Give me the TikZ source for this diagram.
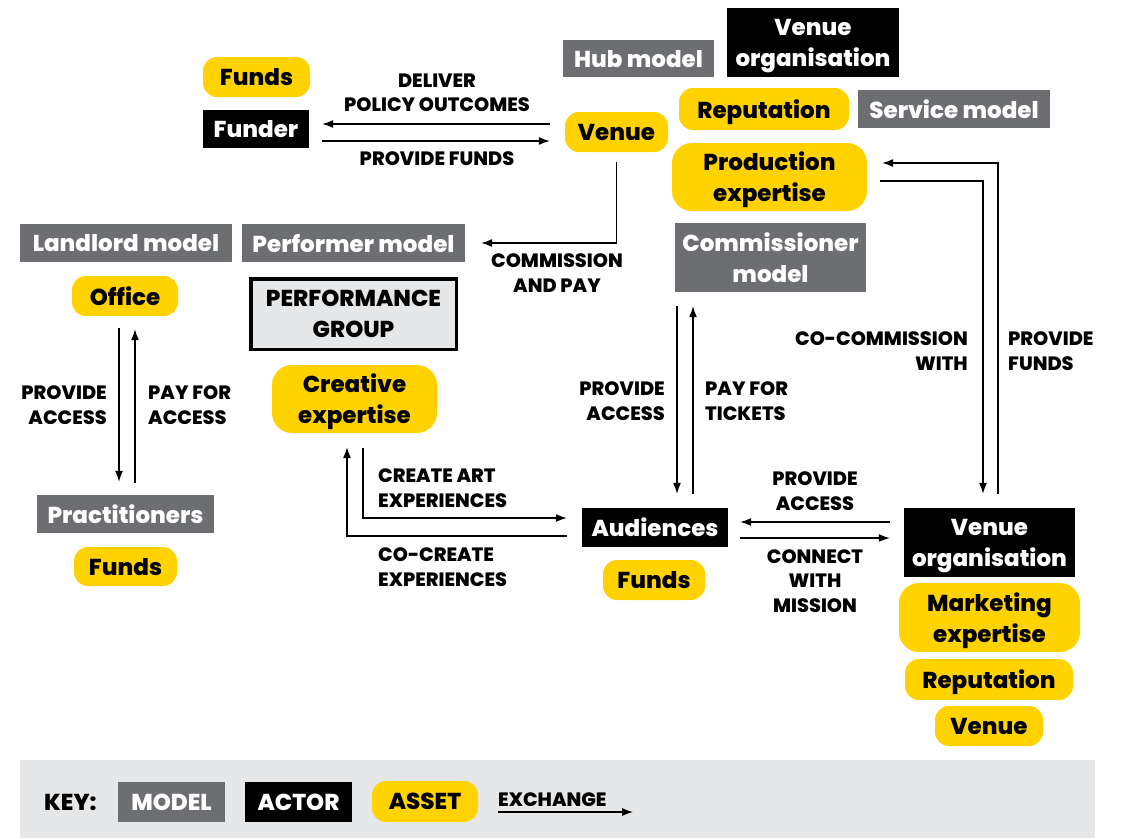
\documentclass[tikz,border=0pt]{standalone}
\usepackage{fontspec}
\setmainfont{Poppins}[BoldFont={Poppins ExtraBold}]
\usetikzlibrary{arrows.meta}
\definecolor{assetyellow}{HTML}{FFD200}
\definecolor{modelgray}{HTML}{6D6E72}
\definecolor{keygray}{HTML}{E6E7E9}

\begin{document}
\begin{tikzpicture}[x=1pt,y=-1pt,
    box/.style={inner sep=0pt, align=center, text depth=0pt, font=\fontsize{23}{31}\selectfont\bfseries},
    model/.style={box, fill=modelgray, text=white},
    actor/.style={box, fill=black, text=white},
    asset/.style={box, fill=assetyellow, text=black, rounded corners=14pt},
    flowtxt/.style={inner sep=0pt, font=\fontsize{19.3}{24.5}\selectfont\bfseries},
    keytxt/.style={inner sep=0pt, font=\fontsize{23}{24}\selectfont\bfseries},
    exch/.style={-{Latex[length=11pt,width=8pt]}, line width=1.2pt}]
  \useasboundingbox (0,0) rectangle (1121,838);

  % Funder and hub
  \node[asset, minimum width=107, minimum height=40] (funds1) at (256.5,77) {Funds};
  \node[actor, minimum width=106, minimum height=38] (funder) at (256,129) {Funder};
  \node[asset, minimum width=103, minimum height=40] (venue1) at (616.5,132) {Venue};
  \node[model, minimum width=151, minimum height=37] (hub) at (638.5,58.5) {Hub model};
  \node[actor, minimum width=172, minimum height=69] (venueorg1) at (813,42.5) {Venue\\organisation};
  \node[asset, minimum width=170, minimum height=42] (reputation1) at (764,109) {Reputation};
  \node[model, minimum width=192, minimum height=38] (service) at (954,109) {Service model};
  \node[asset, minimum width=195, minimum height=68, rounded corners=20pt] (production) at (769.5,177) {Production\\expertise};

  % Landlord and performer
  \node[model, minimum width=212, minimum height=38] (landlord) at (126,243) {Landlord model};
  \node[model, minimum width=223, minimum height=38] (performer) at (353.5,243) {Performer model};
  \node[asset, minimum width=106, minimum height=40] (office) at (125,296) {Office};
  \node[box, fill=keygray, draw=black, line width=3.5pt, minimum width=205.5, minimum height=70.5] (group) at (353.5,314) {PERFORMANCE\\GROUP};
  \node[asset, minimum width=165, minimum height=68, rounded corners=20pt] (creative) at (354.5,399) {Creative\\expertise};
  \node[model, minimum width=177, minimum height=38] (practitioners) at (125.5,514) {Practitioners};
  \node[asset, minimum width=103, minimum height=39] (funds2) at (125.5,566.5) {Funds};

  % Commissioner, audiences and venue
  \node[model, minimum width=191, minimum height=69] (commissioner) at (770.5,257.5) {Commissioner\\model};
  \node[actor, minimum width=146, minimum height=39] (audiences) at (655,527.5) {Audiences};
  \node[asset, minimum width=102, minimum height=40] (funds3) at (654,580) {Funds};
  \node[actor, minimum width=171, minimum height=69] (venueorg2) at (989.5,542.5) {Venue\\organisation};
  \node[asset, minimum width=181, minimum height=69, rounded corners=20pt] (marketing) at (989.5,617.5) {Marketing\\expertise};
  \node[asset, minimum width=168, minimum height=41] (reputation2) at (989,679.5) {Reputation};
  \node[asset, minimum width=108, minimum height=40] (venue2) at (989,726) {Venue};

  % Exchanges
  \draw[exch, shorten <=15pt, shorten >=13pt] ([yshift=5pt]funder.east -| venue1.west) -- ([yshift=5pt]funder.east);
  \draw[exch, shorten <=13pt, shorten >=15pt] ([yshift=-12pt]funder.east) -- ([yshift=-12pt]funder.east -| venue1.west);
  \draw[exch, shorten <=10pt, shorten >=16pt] (venue1.south) |- (performer.east);
  \draw[exch, shorten <=13pt, shorten >=14pt] ([yshift=-4pt]production.east) -| ([xshift=-6.5pt]venueorg2.north);
  \draw[exch, shorten <=14pt, shorten >=15pt] ([xshift=8.5pt]venueorg2.north) |- ([yshift=14pt]production.east);
  \draw[exch, shorten <=12pt, shorten >=13pt] ([xshift=-6pt]office.south) -- ([xshift=-6pt]office.south |- practitioners.north);
  \draw[exch, shorten <=12pt, shorten >=13pt] ([xshift=10pt]office.south |- practitioners.north) -- ([xshift=10pt]office.south);
  \draw[exch, shorten <=14pt, shorten >=14pt] ([xshift=22pt]audiences.north |- commissioner.south) -- ([xshift=22pt]audiences.north);
  \draw[exch, shorten <=14pt, shorten >=14pt] ([xshift=38pt]audiences.north) -- ([xshift=38pt]audiences.north |- commissioner.south);
  \draw[exch, shorten <=15pt, shorten >=15pt] ([xshift=8.5pt]creative.south) |- ([yshift=9.5pt]audiences.west);
  \draw[exch, shorten <=15pt, shorten >=14pt] ([yshift=-8.5pt]audiences.west) -| ([xshift=-7.5pt]creative.south);
  \draw[exch, shorten <=14pt, shorten >=12pt] ([yshift=5.5pt]audiences.east -| venueorg2.west) -- ([yshift=5.5pt]audiences.east);
  \draw[exch, shorten <=12pt, shorten >=14pt] ([yshift=-10.5pt]audiences.east) -- ([yshift=-10.5pt]audiences.east -| venueorg2.west);

  % Exchange labels
  \node[flowtxt, align=center] (tdeliver) at (437,93) {DELIVER\\POLICY OUTCOMES};
  \node[flowtxt] (tfunds1) at (437,159) {PROVIDE FUNDS};
  \node[flowtxt, align=center] (tcommission) at (557,273) {COMMISSION\\AND PAY};
  \node[flowtxt, align=right, anchor=east] (taccess1) at (107,405) {PROVIDE\\ACCESS};
  \node[flowtxt, align=left, anchor=west] (tpay1) at (148,405) {PAY FOR\\ACCESS};
  \node[flowtxt, align=left, anchor=west] (tcreate) at (378,488) {CREATE ART\\EXPERIENCES};
  \node[flowtxt, align=left, anchor=west] (tcocreate) at (378,567) {CO-CREATE\\EXPERIENCES};
  \node[flowtxt, align=right, anchor=east] (taccess2) at (665,401) {PROVIDE\\ACCESS};
  \node[flowtxt, align=left, anchor=west] (ttickets) at (705,401) {PAY FOR\\TICKETS};
  \node[flowtxt, align=right, anchor=east] (tcocomm) at (968,351) {CO-COMMISSION\\WITH};
  \node[flowtxt, align=left, anchor=west] (tfunds2) at (1008,351) {PROVIDE\\FUNDS};
  \node[flowtxt, align=center] (taccess3) at (815,491) {PROVIDE\\ACCESS};
  \node[flowtxt, align=center] (tmission) at (815,581) {CONNECT\\WITH\\MISSION};

  % Key
  \fill[keygray] (20,760) rectangle (1095,838);
  \node[keytxt, anchor=west] (keylabel) at (44,802) {KEY:};
  \node[model, keytxt, minimum width=107, minimum height=40] (keymodel) at (171.5,802) {MODEL};
  \node[actor, keytxt, minimum width=107, minimum height=40] (keyactor) at (298.5,802) {ACTOR};
  \node[asset, keytxt, minimum width=106, minimum height=41] (keyasset) at (425,801.5) {ASSET};
  \node[flowtxt, anchor=west] (keyexch) at (498,800) {EXCHANGE};
  \coordinate (keyA) at (498,812);
  \coordinate (keyB) at (633,812);
  \draw[exch] (keyA) -- (keyB);
\end{tikzpicture}
\end{document}
